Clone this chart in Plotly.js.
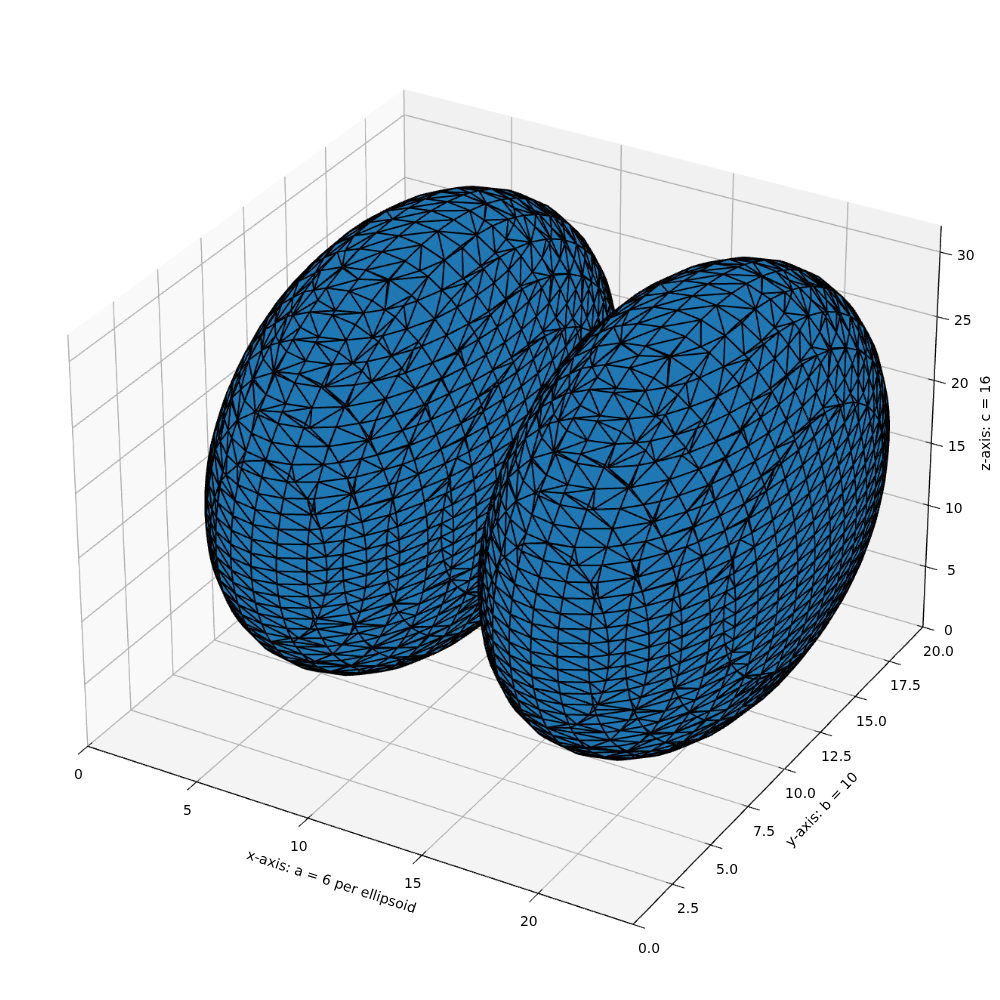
<!DOCTYPE html>
<html><head><meta charset="utf-8">
<script src="https://cdn.plot.ly/plotly-3.0.1.min.js"></script>
<style>html,body{margin:0;padding:0;width:1000px;height:1000px;overflow:hidden;background:#fff}
#clip{position:absolute;left:0;top:0;width:1000px;height:1000px;overflow:hidden}
#plot{position:absolute;left:-1662px;top:-1688px;width:4350px;height:4350px}</style>
</head><body><div id="clip"><div id="plot"></div></div>
<script>
// Values from the chart's own labels and axes
const semiAxisA = 6, semiAxisB = 10, semiAxisC = 16;
const centresX = [7, 19], centreY = 11, centreZ = 17;
const seamX = 14, gridEndX = 26;
const xLimits = [0, 24], yLimits = [0, 20], zLimits = [0, 32];
const xTicks = [0, 5, 10, 15, 20];
const yTicks = [0, 2.5, 5, 7.5, 10, 12.5, 15, 17.5, 20];
const zTicks = [0, 5, 10, 15, 20, 25, 30];
const yTickText = ['0.0','2.5','5.0','7.5','10.0','12.5','15.0','17.5','20.0'];
const xTitle = 'x-axis: a = 6 per ellipsoid', yTitle = 'y-axis: b = 10', zTitle = 'z-axis: c = 16';
const faceColor = '#1f77b4', gridColor = '#b0b0b0';

// Iso-surface of the two joined ellipsoids on a unit grid
function buildMesh() {
  const X=[],Y=[],Z=[],I=[],J=[],K=[],ex=[],ey=[],ez=[];
  const seen=new Map(), edgeSeen=new Set();
  const corners=[[0,0,0],[1,0,0],[1,1,0],[0,1,0],[0,0,1],[1,0,1],[1,1,1],[0,1,1]];
  const edges=[[0,1],[1,2],[2,3],[3,0],[4,5],[5,6],[6,7],[7,4],[0,4],[1,5],[2,6],[3,7]];
  const faces=[[0,1,2,3],[4,5,6,7],[0,9,4,8],[1,10,5,9],[2,11,6,10],[3,8,7,11]];
  const faceCorners=[[0,1,2,3],[4,5,6,7],[0,1,5,4],[1,2,6,5],[2,3,7,6],[3,0,4,7]];
  const f=(x,y,z)=>{const cx=x<seamX?centresX[0]:centresX[1];
    return ((x-cx)/semiAxisA)**2+((y-centreY)/semiAxisB)**2+((z-centreZ)/semiAxisC)**2-1;};
  for(let a=0;a<gridEndX;a++)for(let b=0;b<22;b++)for(let c=0;c<34;c++){
      const cx=a<seamX-1?centresX[0]:centresX[1];
      const val=corners.map(p=>f(a+p[0],b+p[1],c+p[2]));
      const ins=val.map(v=>v<0);
      if(ins.every(v=>v)||ins.every(v=>!v))continue;
      const adj={};
      const link=(p,q)=>{(adj[p]=adj[p]||[]).push(q);(adj[q]=adj[q]||[]).push(p);};
      faces.forEach((fe,fi)=>{
        const cut=fe.filter(e=>ins[edges[e][0]]!==ins[edges[e][1]]);
        if(cut.length===2)link(cut[0],cut[1]);
        else if(cut.length===4){
          const fc=faceCorners[fi];
          const mean=(val[fc[0]]+val[fc[1]]+val[fc[2]]+val[fc[3]])/4;
          const first=ins[fc[0]];
          if(first===(mean<0)){link(fe[0],fe[1]);link(fe[2],fe[3]);}
          else{link(fe[3],fe[0]);link(fe[1],fe[2]);}
        }
      });
      const vid=(e)=>{
        const [p,q]=edges[e];
        const pa=[a+corners[p][0],b+corners[p][1],c+corners[p][2]];
        const pb=[a+corners[q][0],b+corners[q][1],c+corners[q][2]];
        const key=pa.join()+'|'+pb.join();
        if(seen.has(key))return seen.get(key);
        const t=val[p]/(val[p]-val[q]);
        const id=X.length;
        X.push(pa[0]+t*(pb[0]-pa[0]));Y.push(pa[1]+t*(pb[1]-pa[1]));Z.push(pa[2]+t*(pb[2]-pa[2]));
        seen.set(key,id);return id;
      };
      const used=new Set();
      Object.keys(adj).map(Number).forEach(start=>{
        if(used.has(start))return;
        const loop=[start];used.add(start);let cur=start,go=true;
        while(go){go=false;for(const n of adj[cur]){if(!used.has(n)){used.add(n);loop.push(n);cur=n;go=true;break;}}}
        const ids=loop.map(vid);
        for(let t=1;t<ids.length-1;t++){
          const tri=[ids[0],ids[t],ids[t+1]];
          I.push(tri[0]);J.push(tri[1]);K.push(tri[2]);
          [[0,1],[1,2],[2,0]].forEach(([m,n])=>{
            const u=Math.min(tri[m],tri[n]),v=Math.max(tri[m],tri[n]),k=u+'_'+v;
            if(edgeSeen.has(k))return;edgeSeen.add(k);
            const s=1.004;
            [u,v].forEach(w=>{ex.push(cx+(X[w]-cx)*s);ey.push(centreY+(Y[w]-centreY)*s);ez.push(centreZ+(Z[w]-centreZ)*s);});
            ex.push(null);ey.push(null);ez.push(null);
          });
        }
      });
  }
  return {X,Y,Z,I,J,K,ex,ey,ez};
}
const m=buildMesh();

const [x0,x1]=xLimits,[y0,y1]=yLimits,[z0,z1]=zLimits;
const eps=0.03;
function pane(xs,ys,zs,color){
  return {type:'mesh3d',x:xs,y:ys,z:zs,i:[0,0],j:[1,2],k:[2,3],color:color,flatshading:true,
    lighting:{ambient:1,diffuse:0,specular:0,roughness:1,fresnel:0},hoverinfo:'skip',showscale:false};
}
function lines(segs,color,width){
  const x=[],y=[],z=[];
  segs.forEach(s=>{s.forEach(p=>{x.push(p[0]);y.push(p[1]);z.push(p[2]);});x.push(null);y.push(null);z.push(null);});
  return {type:'scatter3d',mode:'lines',x,y,z,line:{color,width},hoverinfo:'skip',showlegend:false};
}
const grid=[];
xTicks.forEach(t=>grid.push([[t,y0,z0],[t,y1,z0],[t,y1,z1]]));
yTicks.forEach(t=>grid.push([[x1,t,z0],[x0,t,z0],[x0,t,z1]]));
zTicks.forEach(t=>grid.push([[x1,y1,t],[x0,y1,t],[x0,y0,t]]));
const axisSegs=[[[x0,y0,z0],[x1,y0,z0],[x1,y1,z0],[x1,y1,z1]]];
const tickSegs=[];
xTicks.forEach(t=>tickSegs.push([[t,y0-0.55,z0],[t,y0+0.25,z0]]));
yTicks.forEach(t=>tickSegs.push([[x1+0.5,t,z0],[x1-0.25,t,z0]]));
zTicks.forEach(t=>tickSegs.push([[x1+0.5,y1,t],[x1-0.25,y1,t]]));

const traces=[
  pane([x0-eps,x0-eps,x0-eps,x0-eps],[y0,y1,y1,y0],[z0,z0,z1,z1],'#f9f9f9'),
  pane([x0,x1,x1,x0],[y1+eps,y1+eps,y1+eps,y1+eps],[z0,z0,z1,z1],'#f1f1f1'),
  pane([x0,x1,x1,x0],[y0,y0,y1,y1],[z0-eps,z0-eps,z0-eps,z0-eps],'#f4f4f4'),
  lines(grid,gridColor,1.5),
  lines(axisSegs,'#000',1.5),
  lines(tickSegs,'#000',1.2),
  {type:'mesh3d',x:m.X,y:m.Y,z:m.Z,i:m.I,j:m.J,k:m.K,color:faceColor,flatshading:true,
   lighting:{ambient:1,diffuse:0,specular:0,roughness:1,fresnel:0},hoverinfo:'skip',showscale:false},
  {type:'scatter3d',mode:'lines',x:m.ex,y:m.ey,z:m.ez,line:{color:'#000',width:2},hoverinfo:'skip',showlegend:false}
];
const font={family:'DejaVu Sans',size:13.9,color:'#000'};
const ann=(x,y,z,text,xshift,yshift,textangle)=>({x,y,z,text,xshift,yshift,textangle:textangle||0,showarrow:false,font,xanchor:'center',yanchor:'middle'});
const annotations=[];
xTicks.forEach(t=>annotations.push(ann(t,y0,z0,String(t),-9,-28)));
yTicks.forEach((t,i)=>annotations.push(ann(x1,t,z0,yTickText[i],16,-24)));
zTicks.forEach(t=>annotations.push(ann(x1,y1,t,String(t),26,-3)));
annotations.push(ann(12,y0,z0,xTitle,-22,-48,18));
annotations.push(ann(x1,10,z0,yTitle,37,-40,-46));
annotations.push(ann(x1,y1,16,zTitle,53,8,-90));
const hidden={visible:false,showspikes:false};
const layout={
  width:4350,height:4350,margin:{l:0,r:0,t:0,b:0},paper_bgcolor:'#fff',showlegend:false,
  scene:{
    domain:{x:[0,1],y:[0,1]},
    xaxis:Object.assign({range:[-6,30]},hidden),
    yaxis:Object.assign({range:[-6,26]},hidden),
    zaxis:Object.assign({range:[-4,36]},hidden),
    aspectmode:'manual',aspectratio:{x:1.785,y:1.904,z:1.116},
    camera:{eye:{x:4.33,y:-7.5,z:5},center:{x:0,y:0,z:0},up:{x:0,y:0,z:1},projection:{type:'perspective'}},
    annotations
  }
};
Plotly.newPlot('plot',traces,layout,{displayModeBar:false});
</script></body></html>
